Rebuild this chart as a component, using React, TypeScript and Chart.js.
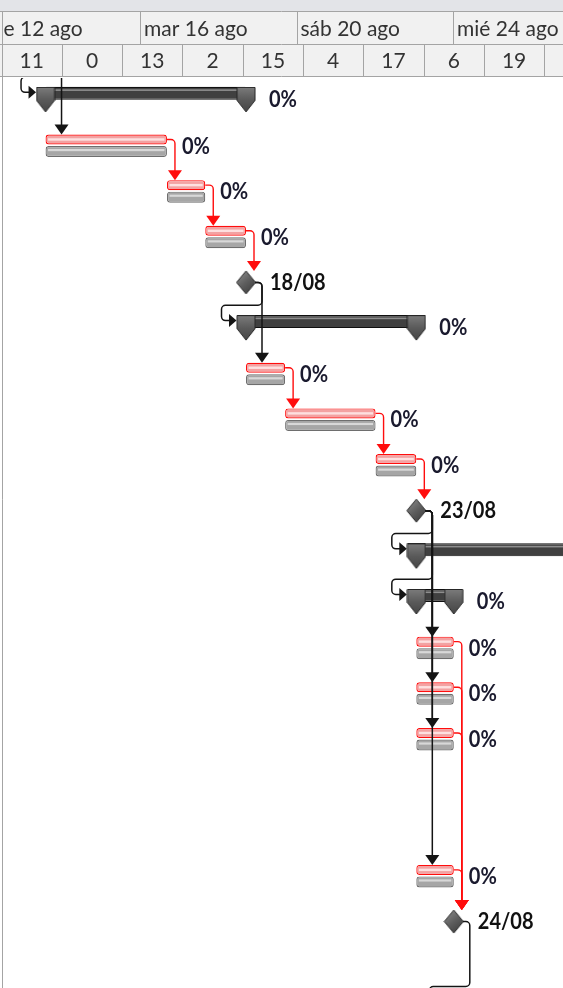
import React, { useEffect, useRef } from 'react';
import { Chart, registerables } from 'chart.js';

Chart.register(...registerables);

// Time unit: hours since "vie 12 ago" 00:00
const topTierHours = [0, 96, 192, 288];
const topTierLabels = ['vie 12 ago', 'mar 16 ago', 'sáb 20 ago', 'mié 24 ago'];
const bottomTierHours = [11, 48, 85, 122, 159, 196, 233, 270, 307, 344, 381];
const bottomTierLabels = ['11', '0', '13', '2', '15', '4', '17', '6', '19', '8'];

// Tasks (tracking gantt: current bar + baseline bar)
const taskRows = [2, 3, 4, 7, 8, 9, 13, 14, 15, 18];
const taskStart = [38, 112.5, 136, 161, 185, 240.5, 265.5, 265.5, 265.5, 265.5];
const taskEnd = [112.5, 136, 161, 185, 240.5, 265.5, 288.5, 288.5, 288.5, 288.5];
const taskLabels = ['0%', '0%', '0%', '0%', '0%', '0%', '0%', '0%', '0%', '0%'];

// Summary tasks
const summaryRows = [1, 6, 11, 12, 21];
const summaryStart = [38, 161, 265.5, 265.5, 288.5];
const summaryEnd = [161, 265.5, 420, 288.5, 340];
const summaryLabels = ['0%', '0%', '0%', '0%', '0%'];

// Milestones
const milestoneRows = [0, 5, 10, 19];
const milestoneHours = [38, 161, 265.5, 288.5];
const milestoneLabels = ['13/08', '18/08', '23/08', '24/08'];

// Finish-to-start links (row of predecessor -> row of successor)
const linkFrom = [0, 0, 2, 3, 4, 5, 5, 7, 8, 9, 10, 10, 10, 10, 10, 10, 13, 14, 15, 18, 19];
const linkTo = [1, 2, 3, 4, 5, 6, 7, 8, 9, 10, 11, 12, 13, 14, 15, 18, 19, 19, 19, 19, 21];

const X_MIN = 11.9;
const X_MAX = 355.5;
const ROW_MIN = 0.5;
const ROW_MAX = 20.456;

const RED = '#ff0d0d';
const BLACK = '#141414';
const LABEL_FONT = 'bold 20px Lato';
const HEADER_FONT = '21px Lato';

function makeDiamond() {
  const c = document.createElement('canvas');
  c.width = 21;
  c.height = 25;
  const g = c.getContext('2d')!;
  const grad = g.createLinearGradient(2, 2, 19, 23);
  grad.addColorStop(0, '#8c8c8c');
  grad.addColorStop(0.5, '#5e5e5e');
  grad.addColorStop(1, '#3c3c3c');
  g.beginPath();
  g.moveTo(10.5, 1);
  g.lineTo(20, 12.5);
  g.lineTo(10.5, 24);
  g.lineTo(1, 12.5);
  g.closePath();
  g.fillStyle = grad;
  g.fill();
  g.strokeStyle = '#2a2a2a';
  g.lineWidth = 1;
  g.stroke();
  return c;
}

function makeCap() {
  const c = document.createElement('canvas');
  c.width = 20;
  c.height = 26;
  const g = c.getContext('2d')!;
  const grad = g.createLinearGradient(0, 0, 0, 26);
  grad.addColorStop(0, '#7c7c7c');
  grad.addColorStop(0.5, '#5a5a5a');
  grad.addColorStop(1, '#444444');
  g.beginPath();
  g.moveTo(1, 0.5);
  g.lineTo(19, 0.5);
  g.lineTo(19, 13.5);
  g.lineTo(10, 25);
  g.lineTo(1, 13.5);
  g.closePath();
  g.fillStyle = grad;
  g.fill();
  g.strokeStyle = '#262626';
  g.lineWidth = 1;
  g.stroke();
  return c;
}

function stretchText(ctx: any, text: string, x: number, y: number, font: string, color: string, sy: number, align = 'left') {
  ctx.save();
  ctx.font = font;
  ctx.fillStyle = color;
  ctx.textBaseline = 'middle';
  ctx.textAlign = align;
  ctx.translate(x, y);
  ctx.scale(1, sy);
  ctx.fillText(text, 0, 0);
  ctx.restore();
}

function poly(ctx: any, pts: number[][], r: number) {
  ctx.beginPath();
  ctx.moveTo(pts[0][0], pts[0][1]);
  for (let i = 1; i < pts.length - 1; i++) {
    ctx.arcTo(pts[i][0], pts[i][1], pts[i + 1][0], pts[i + 1][1], r);
  }
  const last = pts[pts.length - 1];
  ctx.lineTo(last[0], last[1]);
  ctx.stroke();
}

type Item = { kind: 'task' | 'summary' | 'milestone'; start: number; end: number };

export default function App() {
  const ref = useRef<HTMLCanvasElement>(null);

  useEffect(() => {
    document.body.style.margin = '0';
    const canvas = ref.current!;
    const diamond = makeDiamond();
    const cap = makeCap();

    const items = new Map<number, Item>();
    taskRows.forEach((r, i) => items.set(r, { kind: 'task', start: taskStart[i], end: taskEnd[i] }));
    summaryRows.forEach((r, i) => items.set(r, { kind: 'summary', start: summaryStart[i], end: summaryEnd[i] }));
    milestoneRows.forEach((r, i) => items.set(r, { kind: 'milestone', start: milestoneHours[i], end: milestoneHours[i] }));

    const capPoints: { x: number; y: number }[] = [];
    summaryRows.forEach((r, i) => {
      capPoints.push({ x: summaryStart[i], y: r });
      capPoints.push({ x: summaryEnd[i], y: r });
    });

    const gantt = {
      id: 'gantt',
      afterDatasetDraw(chart: any, args: any) {
        const idx = args.index;
        if (idx < 2) return;
        const ctx = chart.ctx;
        const a = chart.chartArea;
        ctx.save();
        ctx.beginPath();
        ctx.rect(a.left, a.top, a.right - a.left, a.bottom - a.top);
        ctx.clip();
        args.meta.data.forEach((el: any) => {
          const { x, y, base, height } = el.getProps(['x', 'y', 'base', 'height'], true);
          const l = Math.min(x, base);
          const r = Math.max(x, base);
          if (idx === 2) {
            ctx.fillStyle = 'rgba(255,235,235,0.85)';
            ctx.fillRect(l + 2.5, y - 1.2, r - l - 5, 2.4);
          } else if (idx === 3) {
            ctx.fillStyle = 'rgba(225,225,225,0.85)';
            ctx.fillRect(l + 2.5, y - 2.5, r - l - 5, 2.2);
          } else if (idx === 4) {
            ctx.fillStyle = '#8e8e8e';
            ctx.fillRect(l + 1, y - height / 2 + 2.5, r - l - 2, 1.6);
          }
        });
        ctx.restore();
      },
      afterDatasetsDraw(chart: any) {
        const ctx = chart.ctx;
        const a = chart.chartArea;
        const xS = chart.scales.x;
        const yS = chart.scales.y;
        const pitch = Math.abs(yS.getPixelForValue(1) - yS.getPixelForValue(0));

        ctx.save();
        ctx.beginPath();
        ctx.rect(a.left, a.top + 1, a.right - a.left, a.bottom - a.top);
        ctx.clip();
        ctx.lineJoin = 'round';

        linkFrom.forEach((f, i) => {
          const t = linkTo[i];
          const p = items.get(f)!;
          const s = items.get(t)!;
          const py = yS.getPixelForValue(f);
          const sy = yS.getPixelForValue(t);
          const pe = xS.getPixelForValue(p.end);
          let x0: number, x1: number, y0: number;
          if (p.kind === 'milestone') {
            x0 = pe + 9;
            x1 = pe + 16;
            y0 = py;
          } else {
            x0 = pe;
            x1 = pe + 8;
            y0 = py - 6;
          }
          const color = p.kind === 'task' ? RED : BLACK;
          ctx.strokeStyle = color;
          ctx.fillStyle = color;
          ctx.lineWidth = p.kind === 'task' ? 1.4 : 1.5;
          if (s.kind === 'summary') {
            const ss = xS.getPixelForValue(s.start);
            const yb = Math.min(sy - pitch / 2, a.bottom - 1.5);
            const xw = ss - 24.5;
            const tip = ss - 9.5;
            const ay = sy - 7.5;
            poly(ctx, [[x0, y0], [x1, y0], [x1, yb], [xw, yb], [xw, ay], [tip - 6, ay]], 4);
            ctx.beginPath();
            ctx.moveTo(tip - 7.5, ay - 6.5);
            ctx.lineTo(tip, ay);
            ctx.lineTo(tip - 7.5, ay + 6.5);
            ctx.closePath();
            ctx.fill();
          } else {
            const tipY = s.kind === 'milestone' ? sy - 11.5 : sy - 11;
            poly(ctx, [[x0, y0], [x1, y0], [x1, tipY - 9]], 4);
            ctx.beginPath();
            ctx.moveTo(x1 - 7, tipY - 10);
            ctx.lineTo(x1 + 7, tipY - 10);
            ctx.lineTo(x1, tipY);
            ctx.closePath();
            ctx.fill();
          }
        });

        // labels
        taskRows.forEach((r, i) => {
          stretchText(ctx, taskLabels[i], xS.getPixelForValue(taskEnd[i]) + 15, yS.getPixelForValue(r) + 1, LABEL_FONT, '#1a1a2e', 1.1);
        });
        summaryRows.forEach((r, i) => {
          stretchText(ctx, summaryLabels[i], xS.getPixelForValue(summaryEnd[i]) + 23, yS.getPixelForValue(r), LABEL_FONT, '#1a1a2e', 1.1);
        });
        milestoneRows.forEach((r, i) => {
          stretchText(ctx, milestoneLabels[i], xS.getPixelForValue(milestoneHours[i]) + 24, yS.getPixelForValue(r), LABEL_FONT, '#111111', 1.1);
        });
        ctx.restore();
      },
      afterDraw(chart: any) {
        const ctx = chart.ctx;
        const xS = chart.scales.x;
        const W = chart.width;
        const H = chart.height;
        const top = chart.chartArea.top;
        ctx.save();
        ctx.fillStyle = '#e3e4e8';
        ctx.fillRect(0, 0, W, 11);
        ctx.fillStyle = '#f1f1f1';
        ctx.fillRect(0, 11, W, top - 11);
        ctx.strokeStyle = '#a4a4a4';
        ctx.lineWidth = 1;
        ctx.beginPath();
        [11.5, 44.5, top - 0.5].forEach((y) => {
          ctx.moveTo(0, y);
          ctx.lineTo(W, y);
        });
        topTierHours.forEach((h) => {
          const x = Math.round(xS.getPixelForValue(h)) + 0.5;
          ctx.moveTo(x, 11.5);
          ctx.lineTo(x, 44.5);
        });
        bottomTierHours.forEach((h) => {
          const x = Math.round(xS.getPixelForValue(h)) + 0.5;
          ctx.moveTo(x, 44.5);
          ctx.lineTo(x, top - 0.5);
        });
        ctx.moveTo(2.5, 11.5);
        ctx.lineTo(2.5, H);
        ctx.stroke();

        ctx.beginPath();
        ctx.rect(3, 12, W - 3, top - 13);
        ctx.clip();
        topTierHours.forEach((h, i) => {
          stretchText(ctx, topTierLabels[i], xS.getPixelForValue(h) + 4, 28.5, HEADER_FONT, '#333333', 1.05);
        });
        bottomTierLabels.forEach((lab, i) => {
          const cx = (xS.getPixelForValue(bottomTierHours[i]) + xS.getPixelForValue(bottomTierHours[i + 1])) / 2;
          stretchText(ctx, lab, cx, 61, HEADER_FONT, '#333333', 1.05, 'center');
        });
        ctx.restore();
      },
    };

    const chart = new Chart(canvas, {
      type: 'bar',
      data: {
        datasets: [
          {
            type: 'scatter',
            order: 0,
            data: capPoints,
            pointStyle: cap as any,
            pointRadius: 12,
            clip: 0,
          } as any,
          {
            type: 'scatter',
            order: 0,
            data: milestoneRows.map((r, i) => ({ x: milestoneHours[i], y: r })),
            pointStyle: diamond as any,
            pointRadius: 12,
            clip: 0,
          } as any,
          {
            type: 'bar',
            order: 1,
            indexAxis: 'y',
            stack: 'top',
            data: taskRows.map((r, i) => ({ y: r, x: [taskStart[i], taskEnd[i]] })),
            backgroundColor: '#f3a2a2',
            borderColor: RED,
            borderWidth: 1.2,
            borderRadius: 3,
            borderSkipped: false,
            barThickness: 12,
            maxBarThickness: 10,
            inflateAmount: 0,
          } as any,
          {
            type: 'bar',
            order: 1,
            indexAxis: 'y',
            stack: 'bottom',
            data: taskRows.map((r, i) => ({ y: r, x: [taskStart[i], taskEnd[i]] })),
            backgroundColor: '#a6a6a6',
            borderColor: '#6e6e6e',
            borderWidth: 1.2,
            borderRadius: 3,
            borderSkipped: false,
            barThickness: 12,
            maxBarThickness: 11,
            inflateAmount: 0,
          } as any,
          {
            type: 'bar',
            order: 2,
            indexAxis: 'y',
            stack: 'top',
            data: summaryRows.map((r, i) => ({ y: r, x: [summaryStart[i], summaryEnd[i]] })),
            backgroundColor: '#404040',
            borderColor: '#101010',
            borderWidth: 1.2,
            borderRadius: 1,
            borderSkipped: false,
            barThickness: 13,
            inflateAmount: 0,
          } as any,
        ],
      },
      options: {
        responsive: false,
        animation: false,
        devicePixelRatio: 1,
        events: [],
        layout: { autoPadding: false, padding: { left: 3, top: 77, right: 0, bottom: 0 } },
        plugins: { legend: { display: false }, tooltip: { enabled: false } },
        scales: {
          x: {
            type: 'linear',
            min: X_MIN,
            max: X_MAX,
            offset: false,
            bounds: 'data',
            stacked: false,
            beginAtZero: false,
            display: false,
            grid: { display: false },
          },
          y: {
            type: 'linear',
            min: ROW_MIN,
            max: ROW_MAX,
            reverse: true,
            offset: false,
            bounds: 'data',
            beginAtZero: false,
            display: false,
            grid: { display: false },
          },
        },
      } as any,
      plugins: [gantt as any],
    });
    return () => chart.destroy();
  }, []);

  return (
    <div style={{ width: 563, height: 988, background: '#ffffff' }}>
      <canvas ref={ref} width={563} height={988} style={{ display: 'block' }} />
    </div>
  );
}
